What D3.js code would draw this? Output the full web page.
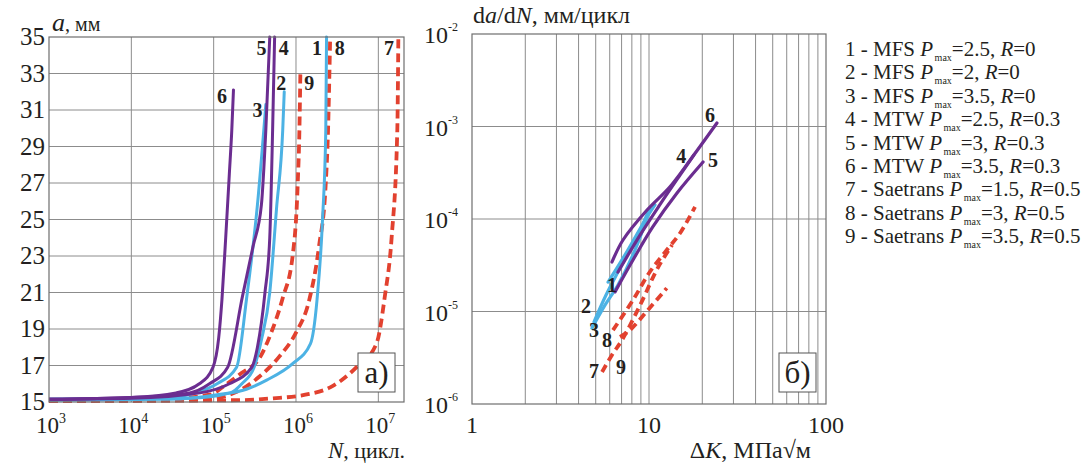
<!DOCTYPE html>
<meta charset="utf-8">
<style>
body { margin: 0; background: #fff; }
svg text { fill: #231f20; }
.grid line { stroke: #8c8c8c; stroke-width: 1; }
.frame { fill: none; stroke: #6e6e6e; stroke-width: 1.2; }
.curve { fill: none; stroke-linejoin: round; }
.lbl { font-weight: bold; font-size: 20px; text-anchor: middle; }
</style>
<body>
<script src="https://d3js.org/d3.v7.min.js"></script>
<script>

// ---- data ----
// left panel: crack length a (mm) vs cycles N
var nTicks = [1e3, 1e4, 1e5, 1e6, 1e7];
var aTicks = [15, 17, 19, 21, 23, 25, 27, 29, 31, 33, 35];

var growth1 = [[1e3,15.1],[3e4,15.15],[1.1e5,15.4],[2.5e5,15.7],[4.4e5,16.2],[9.1e5,17.1],[1.5e6,18.2],[1.8e6,20.6],[2.1e6,25],[2.3e6,29.9],[2.35e6,35]];
var growth2 = [[1e3,15.15],[5e4,15.2],[1.6e5,15.5],[2.2e5,16],[3.1e5,16.9],[3.8e5,18.4],[4.8e5,21],[5.8e5,25.6],[6.9e5,29.9],[7.2e5,32]];
var growth3 = [[1e3,15.15],[3e4,15.25],[6e4,15.5],[1.1e5,16],[1.9e5,16.9],[2.5e5,20.6],[3.4e5,25.8],[4.3e5,31.3]];
var growth4 = [[1e3,15.15],[1e4,15.2],[6.8e4,15.5],[1.55e5,16],[2.9e5,16.9],[3.4e5,18],[4.2e5,21],[4.8e5,24],[5.2e5,29.9],[5.5e5,35]];
var growth5 = [[1e3,15.15],[1e4,15.25],[5.1e4,15.5],[8.9e4,16],[1.48e5,16.9],[2.24e5,20.8],[3.0e5,23.5],[3.8e5,25.8],[4.3e5,29.9],[4.8e5,35]];
var growth6 = [[1e3,15.15],[1e4,15.25],[3.5e4,15.5],[6.7e4,16],[9.8e4,16.9],[1.15e5,18.5],[1.26e5,20.6],[1.4e5,24],[1.55e5,27.5],[1.66e5,29.9],[1.74e5,32.1]];
var growth7 = [[1e3,15.05],[2e5,15.1],[5.2e5,15.2],[1.3e6,15.4],[2.6e6,15.8],[5.4e6,16.9],[9.5e6,18.2],[1.2e7,20.8],[1.45e7,24],[1.7e7,29.9],[1.75e7,35]];
var growth8 = [[1e3,15.05],[6.8e4,15.1],[2.0e5,15.6],[3.6e5,16.4],[6.3e5,17.5],[1.0e6,18.8],[1.45e6,20.6],[1.9e6,23.5],[2.3e6,27],[2.45e6,29.9],[2.6e6,35]];
var growth9 = [[1e3,15.1],[3e4,15.2],[9e4,15.4],[1.45e5,16],[2.2e5,16.6],[3.6e5,17.4],[5e5,18.8],[6.9e5,20.7],[9.1e5,23],[1.05e6,27],[1.1e6,29.9],[1.13e6,33]];

// right panel: da/dN (mm/cycle) vs dK (MPa*sqrt(m))
var kGrid = [2, 3, 4, 5, 6, 7, 8, 9, 10, 20, 30, 40, 50, 60, 70, 80, 90];
var kTicks = [1, 10, 100];
var rateTicks = [1e-6, 1e-5, 1e-4, 1e-3, 1e-2];

var rate1 = [[5.87,2.08e-5],[7.32,4.1e-5],[9.5,9.7e-5],[10.8,1.42e-4]];
var rate2 = [[4.89,7.7e-6],[5.71,1.5e-5],[6.86,2.95e-5],[8.9,7.6e-5],[10.1,1.31e-4]];
var rate3 = [[4.76,6.6e-6],[5.64,1.17e-5],[6.68,1.93e-5],[8.33,4.6e-5],[9.86,1.1e-4]];
var rate4 = [[6.68,2.67e-5],[8.9,6.7e-5],[11.5,1.42e-4],[15.0,3.0e-4],[17.9,4.9e-4]];
var rate5 = [[6.43,1.63e-5],[8.12,3.6e-5],[10.5,8.2e-5],[14.4,1.91e-4],[20.2,4.13e-4]];
var rate6 = [[6.18,3.43e-5],[7.13,5.93e-5],[9.75,1.25e-4],[13.1,2.22e-4],[17.1,4.35e-4],[24.2,1.09e-3]];
var rate7 = [[5.43,2.22e-6],[6.18,3.39e-6],[7.04,4.92e-6],[8.9,1.17e-5],[11.2,2.95e-5],[13.5,5.24e-5]];
var rate8 = [[6.26,6.3e-6],[8.12,1.33e-5],[10.1,2.67e-5],[12.6,4.62e-5],[15.0,7.06e-5],[18.2,1.35e-4]];
var rate9 = [[6.86,5.3e-6],[7.81,6.3e-6],[9.87,1.04e-5],[12.6,1.79e-5]];

var growthSeries = [growth1, growth2, growth3, growth4, growth5, growth6, growth7, growth8, growth9];
var rateSeries = [rate1, rate2, rate3, rate4, rate5, rate6, rate7, rate8, rate9];

// curve label positions in data units
var growthLabels = [[1.8e6,34],[6.6e5,32.1],[3.4e5,30.6],[7.1e5,34],[3.8e5,34],[1.26e5,31.4],[1.35e7,34],[3.4e6,34],[1.45e6,32.1]];
var rateLabels = [[6.18,1.63e-5],[4.4,9.6e-6],[4.89,5.3e-6],[15.2,4.0e-4],[23.0,3.65e-4],[22.1,1.12e-3],[4.89,1.9e-6],[5.79,4.1e-6],[6.95,2.1e-6]];

// legend
var legendModel = ["MFS", "MFS", "MFS", "MTW", "MTW", "MTW", "Saetrans", "Saetrans", "Saetrans"];
var legendP = ["2.5", "2", "3.5", "2.5", "3", "3.5", "1.5", "3", "3.5"];
var legendR = ["0", "0", "0", "0.3", "0.3", "0.3", "0.5", "0.5", "0.5"];

var purple = "#6b2d90", blue = "#4cb2e4", red = "#e2412f";
var seriesColor = [blue, blue, blue, purple, purple, purple, red, red, red];
var serif = "'Liberation Serif'";

var svg = d3.select("body").append("svg")
    .attr("width", 1083).attr("height", 463)
    .style("font-family", serif);

function powerLabel(sel, exp, bigSize, smallSize, dy) {
  sel.append("tspan").text("10").style("font-size", bigSize + "px");
  sel.append("tspan").text(exp).attr("dy", dy).style("font-size", smallSize + "px");
}

// ================= left panel =================
var L = {left: 49, right: 404, top: 37, bottom: 402};
var xN = d3.scaleLog().domain([1e3, 2.05e7]).range([L.left, L.right]);
var yA = d3.scaleLinear().domain([15, 35]).range([L.bottom, L.top]);

var gl = svg.append("g");
gl.append("clipPath").attr("id", "clipL").append("rect")
  .attr("x", L.left).attr("y", L.top - 2).attr("width", L.right - L.left).attr("height", L.bottom - L.top + 4);

var gridL = gl.append("g").attr("class", "grid");
gridL.selectAll(".v").data(nTicks.slice(1)).enter().append("line")
  .attr("x1", function(d) { return xN(d); }).attr("x2", function(d) { return xN(d); })
  .attr("y1", L.top).attr("y2", L.bottom);
gridL.selectAll(".h").data(aTicks.slice(1, -1)).enter().append("line")
  .attr("x1", L.left).attr("x2", L.right)
  .attr("y1", function(d) { return yA(d); }).attr("y2", function(d) { return yA(d); });

var lineL = d3.line()
  .x(function(d) { return xN(d[0]); })
  .y(function(d) { return yA(d[1]); })
  .curve(d3.curveMonotoneX);

var curvesL = gl.append("g").attr("clip-path", "url(#clipL)");
// dashed red drawn first, solid on top
[6, 7, 8, 0, 1, 2, 3, 4, 5].forEach(function(i) {
  curvesL.append("path")
    .attr("class", "curve")
    .attr("d", lineL(growthSeries[i]))
    .attr("stroke", seriesColor[i])
    .attr("stroke-width", i >= 6 ? 3.8 : 3)
    .attr("stroke-dasharray", i >= 6 ? "9,5" : null)
    .attr("stroke-linecap", i >= 6 ? "butt" : "round");
});

gl.append("rect").attr("class", "frame")
  .attr("x", L.left).attr("y", L.top).attr("width", L.right - L.left).attr("height", L.bottom - L.top);

gl.selectAll(".lbl").data(growthLabels).enter().append("text")
  .attr("class", "lbl").style("font-family", serif)
  .attr("x", function(d) { return xN(d[0]); })
  .attr("y", function(d) { return yA(d[1]); })
  .text(function(d, i) { return i + 1; });

// y tick labels
gl.selectAll(".yt").data(aTicks).enter().append("text")
  .attr("x", 45).attr("y", function(d) { return yA(d) + 8; })
  .attr("text-anchor", "end").style("font-size", "25px").style("font-family", serif)
  .text(function(d) { return d; });

// x tick labels
nTicks.forEach(function(t) {
  var tx = gl.append("text").attr("x", xN(t) + 2).attr("y", 433)
    .attr("text-anchor", "middle").style("font-family", serif);
  powerLabel(tx, Math.round(Math.log10(t)), 23, 14, -10);
});

// axis titles
var tA = gl.append("text").attr("x", 52).attr("y", 31).style("font-family", serif);
tA.append("tspan").text("a").style("font-style", "italic").style("font-size", "26px");
tA.append("tspan").text(", мм").style("font-size", "20px");

var tN = gl.append("text").attr("x", 405).attr("y", 458).attr("text-anchor", "end").style("font-family", serif);
tN.append("tspan").text("N").style("font-style", "italic").style("font-size", "23px");
tN.append("tspan").text(", цикл.").style("font-size", "22px");

// panel tag
gl.append("rect").attr("x", 358).attr("y", 353).attr("width", 37).attr("height", 39)
  .attr("fill", "#fff").attr("stroke", "#555").attr("stroke-width", 1);
gl.append("text").attr("x", 376.5).attr("y", 383).attr("text-anchor", "middle")
  .style("font-size", "31px").style("font-family", serif).text("а)");

// ================= right panel =================
var R = {left: 472, right: 826, top: 34, bottom: 404};
var xK = d3.scaleLog().domain([1, 100]).range([R.left, R.right]);
var yV = d3.scaleLog().domain([1e-6, 1e-2]).range([R.bottom, R.top]);

var gr = svg.append("g");
var gridR = gr.append("g").attr("class", "grid");
gridR.selectAll(".v").data(kGrid).enter().append("line")
  .attr("x1", function(d) { return xK(d); }).attr("x2", function(d) { return xK(d); })
  .attr("y1", R.top).attr("y2", R.bottom);
gridR.selectAll(".h").data(rateTicks.slice(1, -1)).enter().append("line")
  .attr("x1", R.left).attr("x2", R.right)
  .attr("y1", function(d) { return yV(d); }).attr("y2", function(d) { return yV(d); });

var lineR = d3.line()
  .x(function(d) { return xK(d[0]); })
  .y(function(d) { return yV(d[1]); })
  .curve(d3.curveCatmullRom);

[6, 7, 8, 0, 1, 2, 3, 4, 5].forEach(function(i) {
  gr.append("path")
    .attr("class", "curve")
    .attr("d", lineR(rateSeries[i]))
    .attr("stroke", seriesColor[i])
    .attr("stroke-width", i >= 6 ? 3.8 : 3.2)
    .attr("stroke-dasharray", i >= 6 ? "8,5" : null)
    .attr("stroke-linecap", i >= 6 ? "butt" : "round");
});

gr.append("rect").attr("class", "frame")
  .attr("x", R.left).attr("y", R.top).attr("width", R.right - R.left).attr("height", R.bottom - R.top);

gr.selectAll(".lbl").data(rateLabels).enter().append("text")
  .attr("class", "lbl").style("font-family", serif)
  .attr("x", function(d) { return xK(d[0]); })
  .attr("y", function(d) { return yV(d[1]); })
  .text(function(d, i) { return i + 1; });

// y tick labels
rateTicks.forEach(function(t) {
  var ty = gr.append("text").attr("x", 424).attr("y", yV(t) + 9).style("font-family", serif);
  powerLabel(ty, Math.round(Math.log10(t)), 24, 12, -12);
});

// x tick labels
gr.selectAll(".xt").data(kTicks).enter().append("text")
  .attr("x", function(d) { return xK(d); }).attr("y", 433)
  .attr("text-anchor", "middle").style("font-size", "24px").style("font-family", serif)
  .text(function(d) { return d; });

// axis titles
var tV = gr.append("text").attr("x", 473).attr("y", 23).style("font-size", "24px").style("font-family", serif);
tV.append("tspan").text("d");
tV.append("tspan").text("a").style("font-style", "italic");
tV.append("tspan").text("/d");
tV.append("tspan").text("N").style("font-style", "italic");
tV.append("tspan").text(", мм/цикл");

var tK = gr.append("text").attr("x", 811).attr("y", 458).attr("text-anchor", "end")
  .style("font-size", "24px").style("font-family", serif);
tK.append("tspan").text("Δ");
tK.append("tspan").text("K").style("font-style", "italic");
tK.append("tspan").text(", МПа√м");

gr.append("rect").attr("x", 779).attr("y", 353).attr("width", 37).attr("height", 39)
  .attr("fill", "#fff").attr("stroke", "#555").attr("stroke-width", 1);
gr.append("text").attr("x", 797.5).attr("y", 383).attr("text-anchor", "middle")
  .style("font-size", "31px").style("font-family", serif).text("б)");

// ================= legend =================
var lg = svg.append("g").attr("transform", "translate(845,56)");
legendModel.forEach(function(m, i) {
  var t = lg.append("text").attr("y", i * 23.4).style("font-size", "21px").style("font-family", serif);
  t.append("tspan").text((i + 1) + " - " + m + " ");
  t.append("tspan").text("P").style("font-style", "italic");
  t.append("tspan").text("max").attr("dx", 1.5).attr("dy", 5).style("font-size", "10px");
  t.append("tspan").text("=" + legendP[i] + ", ").attr("dy", -5);
  t.append("tspan").text("R").style("font-style", "italic");
  t.append("tspan").text("=" + legendR[i]);
});

</script>
</body>
